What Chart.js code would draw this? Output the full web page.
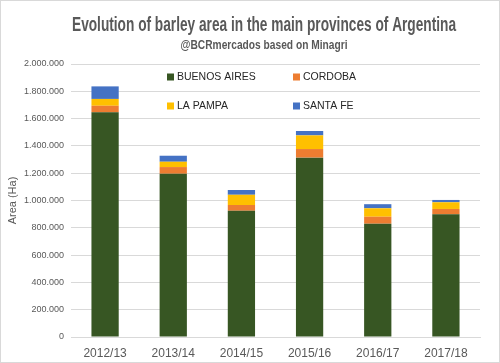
<!DOCTYPE html>
<html><head><meta charset="utf-8">
<script src="https://cdn.jsdelivr.net/npm/chart.js@4"></script>
<style>
html,body{margin:0;padding:0;background:#fff;}
#wrap{position:relative;width:498px;height:361px;border:1px solid #d9d9d9;}
canvas{display:block;}
</style></head><body>
<div id="wrap"><canvas id="c" width="498" height="361"></canvas></div>
<script>
const categories = ["2012/13","2013/14","2014/15","2015/16","2016/17","2017/18"];
const buenosAires = [1646000,1196000,925000,1314000,830000,899000];
const cordoba     = [48000,49000,42000,63000,51000,39000];
const laPampa     = [50000,39000,75000,100000,62000,49000];
const santaFe     = [92000,44000,35000,32000,30000,17000];
const seriesNames = ["BUENOS AIRES","CORDOBA","LA PAMPA","SANTA FE"];
const seriesColors = ["#375623","#ED7D31","#FFC000","#4472C4"];
const yTicks = [0,200000,400000,600000,800000,1000000,1200000,1400000,1600000,1800000,2000000];
const titleText = "Evolution of barley area in the main provinces of Argentina";
const subtitleText = "@BCRmercados based on Minagri";
const yTitle = "Area (Ha)";

const sans = '"Liberation Sans", Arial, sans-serif';

const fmt = v => String(v).replace(/\B(?=(\d{3})+(?!\d))/g, ".");

const overlay = {
  id:'overlay',
  afterDraw(chart){
    const ctx = chart.ctx;
    ctx.save();
    ctx.fillStyle = '#595959';
    ctx.textAlign = 'center';
    ctx.textBaseline = 'middle';
    ctx.font = 'bold 20px ' + sans;
    ctx.fillText(titleText, 263, 24, 384);
    ctx.font = 'bold 13px ' + sans;
    ctx.fillText(subtitleText, 263, 44, 167);
    // legend
    const pos = [[166,76],[292,76],[166,105],[292,105]];
    ctx.font = '10.5px ' + sans;
    ctx.textAlign = 'left';
    seriesNames.forEach((n,i)=>{
      const [x,y] = pos[i];
      ctx.fillStyle = seriesColors[i];
      ctx.fillRect(x, y-3.5, 7, 7);
      ctx.fillStyle = '#262626';
      ctx.fillText(n, x+10, y+0.5);
    });
    ctx.restore();
  }
};

const datasets = [buenosAires,cordoba,laPampa,santaFe].map((d,i)=>({
  label: seriesNames[i],
  data: d,
  backgroundColor: seriesColors[i],
  borderWidth: 0,
  barPercentage: 0.8,
  categoryPercentage: 0.5
}));

new Chart(document.getElementById('c'), {
  type:'bar',
  data:{labels:categories, datasets},
  plugins:[overlay],
  options:{
    responsive:false,
    animation:false,
    layout:{padding:{top:63,right:19,left:0,bottom:0}},
    plugins:{legend:{display:false},tooltip:{enabled:false}},
    scales:{
      x:{
        stacked:true,
        grid:{display:false, drawTicks:false},
        border:{color:'#d9d9d9'},
        ticks:{color:'#595959', font:{size:12, family:sans}, padding:9},
        afterFit(s){ s.height = 25; }
      },
      y:{
        stacked:true,
        min:0, max:2000000,
        afterBuildTicks(s){ s.ticks = yTicks.map(v=>({value:v})); },
        grid:{color:'#d9d9d9', drawTicks:false},
        border:{display:false},
        ticks:{color:'#595959', font:{size:9, family:sans}, padding:7, callback:v=>fmt(v)},
        title:{display:true, text:yTitle, color:'#595959', font:{size:11, family:sans}, padding:{top:5,bottom:0}},
        afterFit(s){ s.width = 70; }
      }
    }
  }
});
</script>
</body></html>
